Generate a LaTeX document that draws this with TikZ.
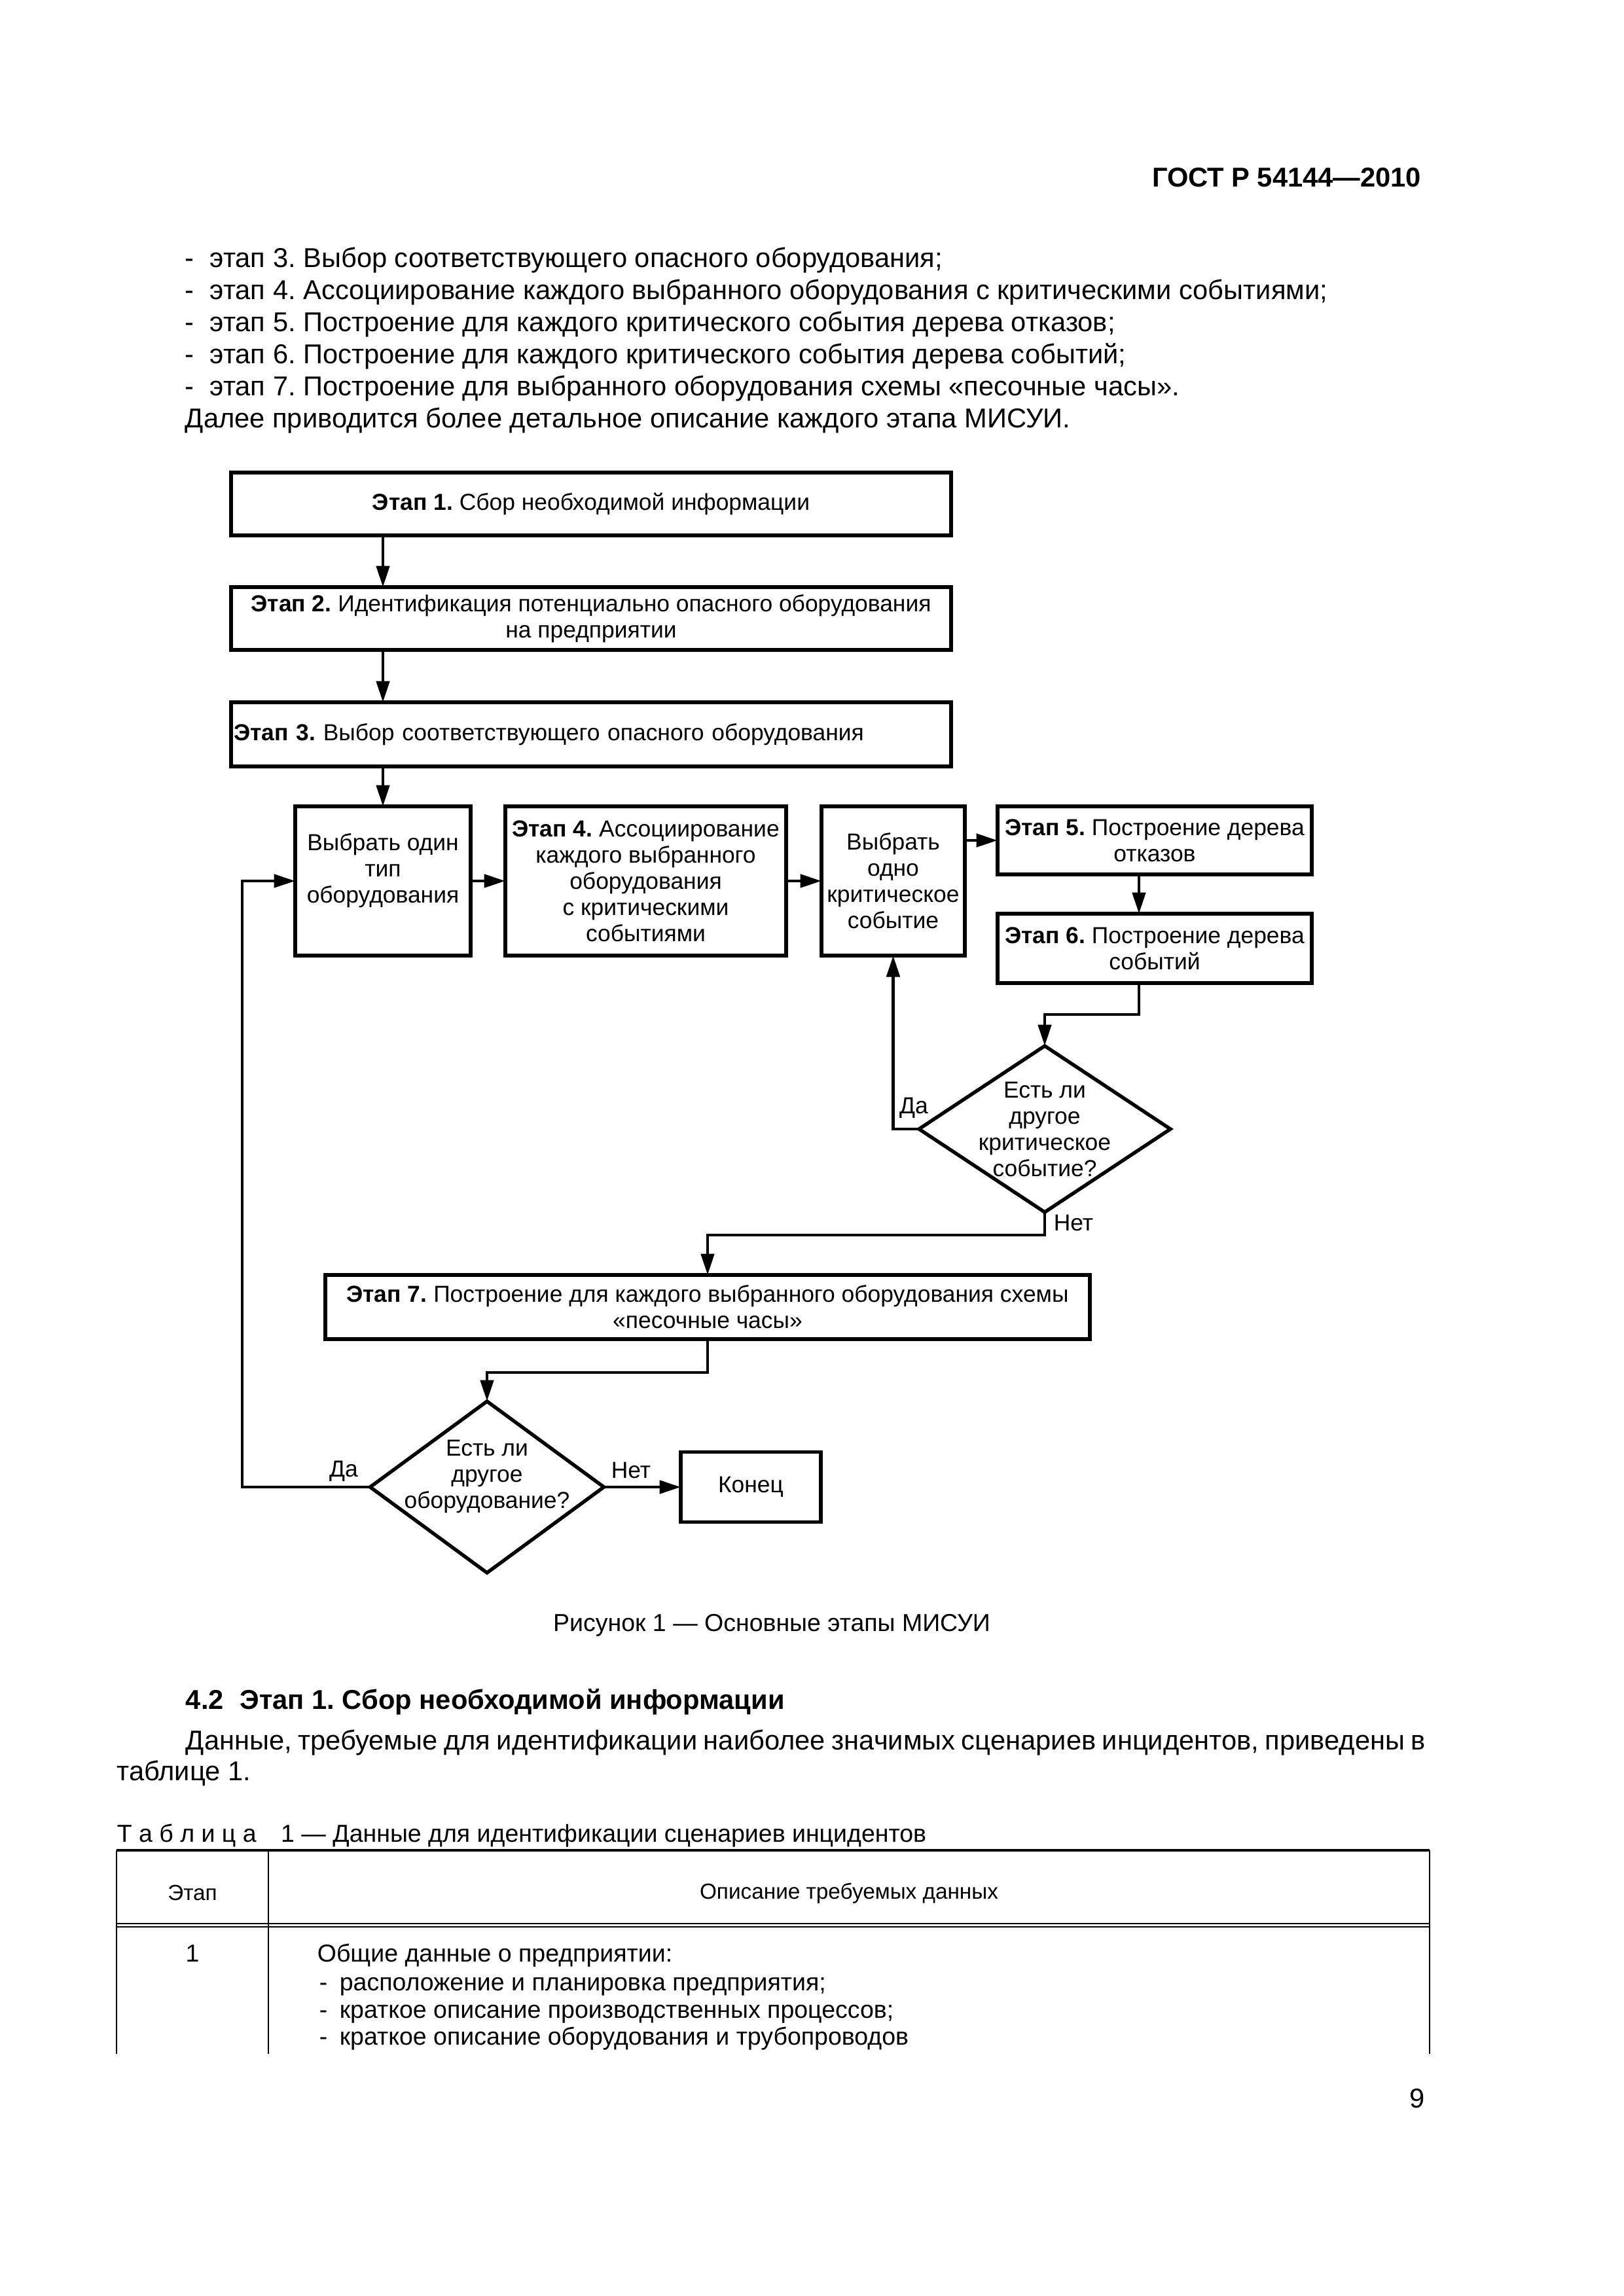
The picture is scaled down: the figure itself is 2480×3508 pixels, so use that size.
\documentclass[tikz,border=0pt]{standalone}
\usepackage{fontspec}
\setmainfont{Liberation Sans}
\usetikzlibrary{arrows.meta,shapes.geometric}
\frenchspacing
\newlength\pxlen
\setlength\pxlen{0.24003pt}
\newcommand\dfont{\fontsize{8.5}{9.6}\selectfont}
\newcommand\bfont{\fontsize{10}{12}\selectfont}
\begin{document}
\frenchspacing
\begin{tikzpicture}[x=0.24003pt,y=-0.24003pt,
  box/.style={draw, line width=1.4pt, inner sep=0pt, outer sep=0pt, align=center, font=\dfont},
  dia/.style={draw, shape=diamond, line width=1.3pt, inner sep=0pt, outer sep=0pt},
  dtext/.style={inner sep=0pt, align=center, font=\dfont},
  conn/.style={line width=1.15pt, -{Triangle[length=7.8pt,width=4.8pt]}},
  lbl/.style={inner sep=0pt, font=\dfont},
  bodytext/.style={inner sep=0pt, anchor=base west, font=\bfont},
  tline/.style={line width=0.5pt}]
\useasboundingbox (0,0) rectangle (2480,3508);
\fill[white] (0,0) rectangle (2480,3508);

% header
\node[inner sep=0pt, anchor=base east, font=\bfont\bfseries] (hdr) at (2172,285) {ГОСТ Р 54144—2010};

% body lines
\node[bodytext] (t1) at (282,408) {\makebox[38\pxlen][l]{-}этап 3. Выбор соответствующего опасного оборудования;};
\node[bodytext] (t2) at (282,457) {\makebox[38\pxlen][l]{-}этап 4. Ассоциирование каждого выбранного оборудования с критическими событиями;};
\node[bodytext] (t3) at (282,506) {\makebox[38\pxlen][l]{-}этап 5. Построение для каждого критического события дерева отказов;};
\node[bodytext] (t4) at (282,555) {\makebox[38\pxlen][l]{-}этап 6. Построение для каждого критического события дерева событий;};
\node[bodytext] (t5) at (282,604) {\makebox[38\pxlen][l]{-}этап 7. Построение для выбранного оборудования схемы «песочные часы».};
\node[bodytext] (t6) at (282,653) {Далее приводится более детальное описание каждого этапа МИСУИ.};

% diagram boxes
\node[box, minimum width=1100*\pxlen, minimum height=96*\pxlen] (b1) at (903,770) {\textbf{Этап 1.} Сбор необходимой информации};
\node[box, minimum width=1100*\pxlen, minimum height=96*\pxlen] (b2) at (903,945) {\textbf{Этап 2.} Идентификация потенциально опасного оборудования\\на предприятии};
\node[box, minimum width=1100*\pxlen, minimum height=98*\pxlen, text width=1092*\pxlen, inner xsep=4*\pxlen, align=left] (b3) at (903,1122) {\textbf{Этап 3.} Выбор соответствующего опасного оборудования};
\node[box, minimum width=268*\pxlen, minimum height=228*\pxlen] (bA) at (585,1346) {Выбрать один\\тип\\оборудования\\\mbox{}};
\node[box, minimum width=429*\pxlen, minimum height=228*\pxlen] (bB) at (986.5,1346) {\textbf{Этап 4.} Ассоциирование\\каждого выбранного\\оборудования\\с критическими\\событиями};
\node[box, minimum width=219*\pxlen, minimum height=228*\pxlen] (bC) at (1364.5,1346) {Выбрать\\одно\\критическое\\событие};
\node[box, minimum width=480*\pxlen, minimum height=104*\pxlen] (bD) at (1764,1284) {\textbf{Этап 5.} Построение дерева\\отказов};
\node[box, minimum width=480*\pxlen, minimum height=106*\pxlen] (bE) at (1764,1449) {\textbf{Этап 6.} Построение дерева\\событий};
\node[dia, minimum width=384*\pxlen, minimum height=254*\pxlen] (d1) at (1596,1725) {};
\node[dtext] (d1t) at (d1.center) {Есть ли\\другое\\критическое\\событие?};
\node[box, minimum width=1168*\pxlen, minimum height=98*\pxlen] (b7) at (1081,1997) {\textbf{Этап 7.} Построение для каждого выбранного оборудования схемы\\«песочные часы»};
\node[dia, minimum width=357*\pxlen, minimum height=262*\pxlen] (d2) at (744,2272) {};
\node[dtext, yshift=16*\pxlen] (d2t) at (d2.center) {Есть ли\\другое\\оборудование?};
\node[box, minimum width=214*\pxlen, minimum height=107*\pxlen] (bEnd) at (1147,2272) {Конец};

% helper coordinates
\coordinate (xDE) at (1740,0);
\coordinate (yE1) at (0,1550);
\coordinate (yN1) at (0,1887);
\coordinate (y72) at (0,2097);
\coordinate (xL) at (370,0);

% connectors
\draw[conn] (b1.south -| bA.north) -- (b2.north -| bA.north);
\draw[conn] (b2.south -| bA.north) -- (b3.north -| bA.north);
\draw[conn] (b3.south -| bA.north) -- (bA.north);
\draw[conn] (bA.east) -- (bB.west);
\draw[conn] (bB.east) -- (bC.west);
\draw[conn] (bC.east |- bD.west) -- (bD.west);
\draw[conn] (bD.south -| xDE) -- (bE.north -| xDE);
\draw[conn] (bE.south -| xDE) -- (xDE |- yE1) -| (d1.north);
\draw[conn] (d1.west) -| (bC.south);
\draw[conn] (d1.south) -- (d1.south |- yN1) -| (b7.north);
\draw[conn] (b7.south) -- (b7.south |- y72) -| (d2.north);
\draw[conn] (d2.west) -- (xL |- d2.west) |- (bA.west);
\draw[conn] (d2.east) -- (bEnd.west);

% labels
\node[lbl] (da1) at (1396,1693) {Да};
\node[lbl, anchor=west] (net1) at (1609,1868) {Нет};
\node[lbl] (da2) at (525,2248) {Да};
\node[lbl] (net2) at (964,2246) {Нет};

% caption and following text
\node[inner sep=0pt, anchor=base, font=\fontsize{9}{11}\selectfont] (cap) at (1179,2492) {Рисунок 1 — Основные этапы МИСУИ};
\node[bodytext, font=\bfont\bfseries] (sec) at (283,2611) {4.2\hspace{0.6em}Этап 1. Сбор необходимой информации};
\node[bodytext] (p1) at (283,2673) {\makebox[1894\pxlen][s]{Данные, требуемые для идентификации наиболее значимых сценариев инцидентов, приведены в}};
\node[bodytext] (p2) at (178,2720) {таблице 1.};
\node[bodytext, font=\fontsize{9}{11}\selectfont] (tcap) at (178,2814) {Т а б л и ц а\quad 1 — Данные для идентификации сценариев инцидентов};

% table
\draw[line width=0.8pt] (178,2827) -- (2184,2827);
\draw[tline] (178,2827) -- (178,3138);
\draw[tline] (410,2827) -- (410,3138);
\draw[tline] (2184,2827) -- (2184,3138);
\draw[tline] (178,2939) -- (2184,2939);
\draw[tline] (178,2944) -- (2184,2944);
\node[inner sep=0pt, font=\fontsize{8}{10}\selectfont] (th1) at (294,2892) {Этап};
\node[inner sep=0pt, font=\fontsize{8}{10}\selectfont] (th2) at (1297,2893) {Описание требуемых данных};
\node[inner sep=0pt, anchor=base, font=\fontsize{9}{11}\selectfont] (r1) at (294,2997) {1};
\node[bodytext, font=\fontsize{9}{11}\selectfont] (r2) at (484,2997) {Общие данные о предприятии:};
\node[bodytext, font=\fontsize{9}{11}\selectfont] (r3) at (487,3041) {\makebox[31\pxlen][l]{-}расположение и планировка предприятия;};
\node[bodytext, font=\fontsize{9}{11}\selectfont] (r4) at (487,3083) {\makebox[31\pxlen][l]{-}краткое описание производственных процессов;};
\node[bodytext, font=\fontsize{9}{11}\selectfont] (r5) at (487,3124) {\makebox[31\pxlen][l]{-}краткое описание оборудования и трубопроводов};

% page number
\node[inner sep=0pt, anchor=base, font=\bfont] (pg) at (2165,3220) {9};
\end{tikzpicture}
\end{document}
